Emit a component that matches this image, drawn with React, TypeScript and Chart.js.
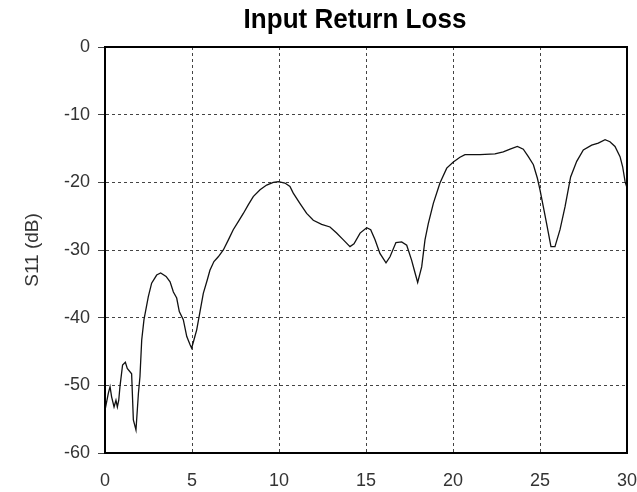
import React, { useEffect, useRef } from "react";
import { Chart, registerables } from "chart.js";

Chart.register(...registerables);

const TITLE = "Input Return Loss";
const Y_LABEL = "S11 (dB)";

const freqs = [
  0.0, 0.06, 0.19, 0.29, 0.38, 0.52, 0.63, 0.71, 0.79, 0.86, 1.01, 1.17, 1.28, 1.53, 1.63, 1.78, 1.92,
  2.01, 2.11, 2.24, 2.49, 2.68, 2.97, 3.2, 3.51, 3.74, 3.93, 4.12, 4.27, 4.5, 4.7, 4.89, 4.98, 5.11,
  5.27, 5.46, 5.65, 5.88, 6.03, 6.26, 6.51, 6.8, 7.09, 7.37, 7.66, 7.95, 8.24, 8.52, 8.91, 9.29, 9.67,
  9.96, 10.34, 10.63, 10.82, 11.2, 11.59, 11.97, 12.45, 12.93, 13.31, 13.7, 14.08, 14.31, 14.66, 15.04,
  15.27, 15.52, 15.8, 16.15, 16.38, 16.72, 17.05, 17.34, 17.62, 17.82, 17.97, 18.2, 18.39, 18.58, 18.87,
  19.25, 19.64, 20.02, 20.4, 20.69, 21.55, 22.41, 22.89, 23.28, 23.7, 24.04, 24.33, 24.62, 24.85, 25.0,
  25.19, 25.38, 25.63, 25.86, 26.15, 26.44, 26.76, 27.11, 27.49, 27.97, 28.35, 28.74, 29.02, 29.31, 29.6,
  29.75, 29.89, 30.0,
];

const s11 = [
  -52.0, -52.9, -51.2, -50.2, -51.7, -53.2, -52.2, -53.2, -52.2, -50.2, -47.0, -46.6, -47.5, -48.3, -55.1,
  -56.6, -51.2, -48.7, -43.3, -40.3, -36.9, -34.9, -33.7, -33.4, -33.9, -34.7, -36.2, -37.1, -39.1, -40.3,
  -42.8, -44.0, -44.5, -43.3, -41.8, -39.1, -36.4, -34.4, -33.0, -31.7, -31.0, -30.0, -28.5, -27.0, -25.8,
  -24.6, -23.3, -22.1, -21.1, -20.4, -20.0, -19.9, -20.1, -20.6, -21.6, -23.1, -24.6, -25.6, -26.2, -26.6,
  -27.5, -28.5, -29.5, -29.1, -27.5, -26.7, -27.0, -28.5, -30.5, -31.9, -31.0, -28.9, -28.8, -29.3, -31.5,
  -33.4, -34.8, -32.5, -28.5, -26.1, -23.1, -20.1, -17.9, -17.0, -16.3, -15.9, -15.9, -15.8, -15.5, -15.1,
  -14.7, -15.1, -16.2, -17.4, -19.4, -21.1, -23.6, -26.1, -29.5, -29.5, -27.0, -23.6, -19.2, -16.9, -15.2,
  -14.5, -14.2, -13.7, -14.0, -14.7, -16.2, -17.7, -19.9, -20.8,
];

const X_MIN = 0;
const X_MAX = 30;
const X_STEP = 5;
const Y_MIN = -60;
const Y_MAX = 0;
const Y_STEP = 10;

const FONT = '"Liberation Sans", Arial, sans-serif';

const boxPlugin = {
  id: "boxPlugin",
  afterDraw(chart: any) {
    const { ctx, chartArea } = chart;
    ctx.save();
    ctx.strokeStyle = "#000";
    ctx.lineWidth = 2;
    ctx.setLineDash([]);
    ctx.strokeRect(chartArea.left, chartArea.top, chartArea.right - chartArea.left, chartArea.bottom - chartArea.top);
    ctx.restore();

    ctx.save();
    ctx.font = `bold 28px ${FONT}`;
    ctx.fillStyle = "#000";
    ctx.textAlign = "center";
    ctx.textBaseline = "alphabetic";
    ctx.translate(355, 28);
    ctx.scale(0.93, 1);
    ctx.fillText(TITLE, 0, 0);
    ctx.restore();
  },
};

export default function App() {
  const ref = useRef<HTMLCanvasElement | null>(null);

  useEffect(() => {
    document.body.style.margin = "0";
    if (!ref.current) return;
    const points = freqs.map((f, i) => ({ x: f, y: s11[i] }));
    const chart = new Chart(ref.current, {
      type: "line",
      data: {
        datasets: [
          {
            data: points,
            borderColor: "#111",
            borderWidth: 1.3,
            pointRadius: 0,
            tension: 0,
            fill: false,
          },
        ],
      },
      plugins: [boxPlugin],
      options: {
        animation: false,
        responsive: false,
        devicePixelRatio: 1,
        layout: { padding: { top: 47, right: 10, left: 0, bottom: 0 } },
        plugins: {
          legend: { display: false },
          title: { display: false },
          tooltip: { enabled: false },
        },
        scales: {
          x: {
            type: "linear",
            min: X_MIN,
            max: X_MAX,
            afterFit: (s: any) => {
              s.height = 39;
              s.paddingLeft = 0;
              s.paddingRight = 0;
            },
            ticks: {
              stepSize: X_STEP,
              color: "#333",
              font: { family: FONT, size: 18 },
              padding: 17,
              maxRotation: 0,
            },
            grid: {
              color: "#444",
              lineWidth: 1,
              drawTicks: false,
            },
            border: { display: true, color: "#000", width: 2, dash: [3, 3] },
          },
          y: {
            type: "linear",
            min: Y_MIN,
            max: Y_MAX,
            afterFit: (s: any) => {
              s.width = 105;
              s.paddingTop = 0;
              s.paddingBottom = 0;
            },
            ticks: {
              stepSize: Y_STEP,
              color: "#333",
              font: { family: FONT, size: 18 },
              padding: 8,
            },
            grid: {
              color: "#444",
              lineWidth: 1,
              drawTicks: true,
              tickLength: 7,
              tickColor: "#444",
              tickBorderDash: [],
            },
            border: { display: true, color: "#000", width: 2, dash: [3, 3] },
            title: {
              display: true,
              text: Y_LABEL,
              color: "#333",
              font: { family: FONT, size: 19 },
              padding: { top: 21, bottom: 0 },
            },
          },
        },
      },
    });
    return () => chart.destroy();
  }, []);

  return (
    <div style={{ width: 637, height: 492 }}>
      <canvas ref={ref} width={637} height={492} />
    </div>
  );
}
